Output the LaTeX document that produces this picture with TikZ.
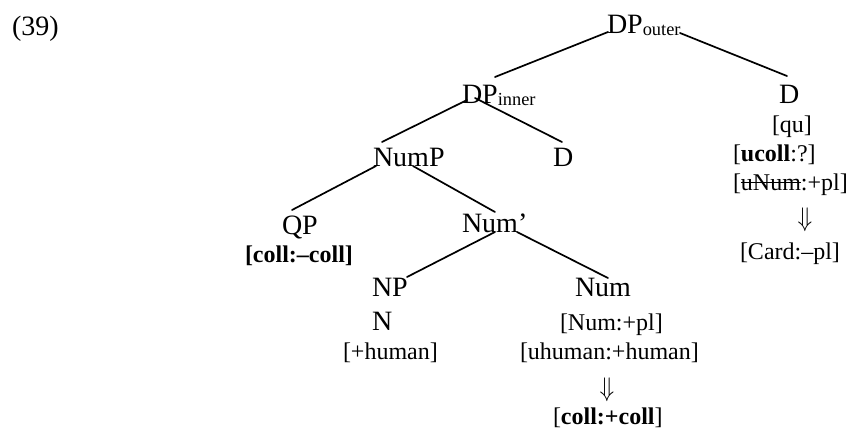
\documentclass[tikz,border=0pt]{standalone}
\usepackage{fontspec}
\setmainfont{Liberation Serif}
\usetikzlibrary{calc}
\newcommand\strk[1]{\begingroup\setbox0\hbox{#1}\rlap{\rule[0.28em]{\wd0}{0.6pt}}\box0\endgroup}
\newcommand\sbs[1]{{\fontsize{9.2}{10}\selectfont\raisebox{-1.3pt}{#1}}}
\newcommand\darr{\scalebox{1}[1.12]{$\Downarrow$}}
\begin{document}
\begin{tikzpicture}[x=0.5pt,y=-0.5pt,
  cat/.style={anchor=base west,inner sep=0pt,outer sep=0pt,font=\fontsize{14}{16}\selectfont},
  lbl/.style={anchor=base west,inner sep=0pt,outer sep=0pt,font=\fontsize{12}{14}\selectfont},
  arr/.style={anchor=center,inner sep=0pt,outer sep=0pt,font=\fontsize{13}{15}\selectfont},
  edge/.style={line width=0.85pt,line cap=round}]
\useasboundingbox (0,0) rectangle (853,429);
% example number
\node[cat] (ex) at (12,35) {(39)};
% tree nodes
\node[cat] (DPo) at (607,33) {DP\sbs{outer}};
\node[cat] (DPi) at (462,103) {DP\sbs{inner}};
\node[cat] (Do) at (779,103) {D};
\node[lbl] (qu) at (772,132) {[qu]};
\node[lbl] (ucoll) at (733,161) {[\textbf{ucoll}:?]};
\node[lbl] (uNum) at (733,190) {[\strk{uNum}:+pl]};
\node[arr] (arrR) at (805,220) {\darr};
\node[lbl] (card) at (740,259) {[Card:–pl]};
\node[cat] (NumP) at (373,166) {NumP};
\node[cat] (Dm) at (553,166) {D};
\node[cat] (QP) at (282,234) {QP};
\node[lbl] (collm) at (245,262) {\textbf{[coll:–coll]}};
\node[cat] (Numb) at (462,232) {Num’};
\node[cat] (NP) at (372,296) {NP};
\node[cat] (N) at (372,330) {N};
\node[lbl] (hum) at (343,359) {[+human]};
\node[cat] (Num) at (575,296) {Num};
\node[lbl] (Numpl) at (560,330) {[Num:+pl]};
\node[lbl] (uhum) at (520,359) {[uhuman:+human]};
\node[arr] (arrL) at (607,390) {\darr};
\node[lbl] (collp) at (553,424) {[\textbf{coll:+coll}]};
% branches
\draw[edge] ($(DPo.base west)+(1,-1)$) -- ($(DPi.base west)+(33,-26)$);
\draw[edge] ($(DPo.base west)+(73,0)$) -- ($(Do.base west)+(8,-27)$);
\draw[edge] ($(DPi.base west)+(5,-3)$) -- ($(NumP.base west)+(9,-24)$);
\draw[edge] ($(DPi.base west)+(13,-5)$) -- ($(Dm.base west)+(9,-24)$);
\draw[edge] ($(NumP.base west)+(3,0)$) -- ($(QP.base west)+(10,-24)$);
\draw[edge] ($(NumP.base west)+(40,0)$) -- ($(Numb.base west)+(33,-20)$);
\draw[edge] ($(Numb.base west)+(33,0)$) -- ($(NP.base west)+(35,-19)$);
\draw[edge] ($(Numb.base west)+(55,0)$) -- ($(Num.base west)+(33,-18)$);
\end{tikzpicture}
\end{document}
